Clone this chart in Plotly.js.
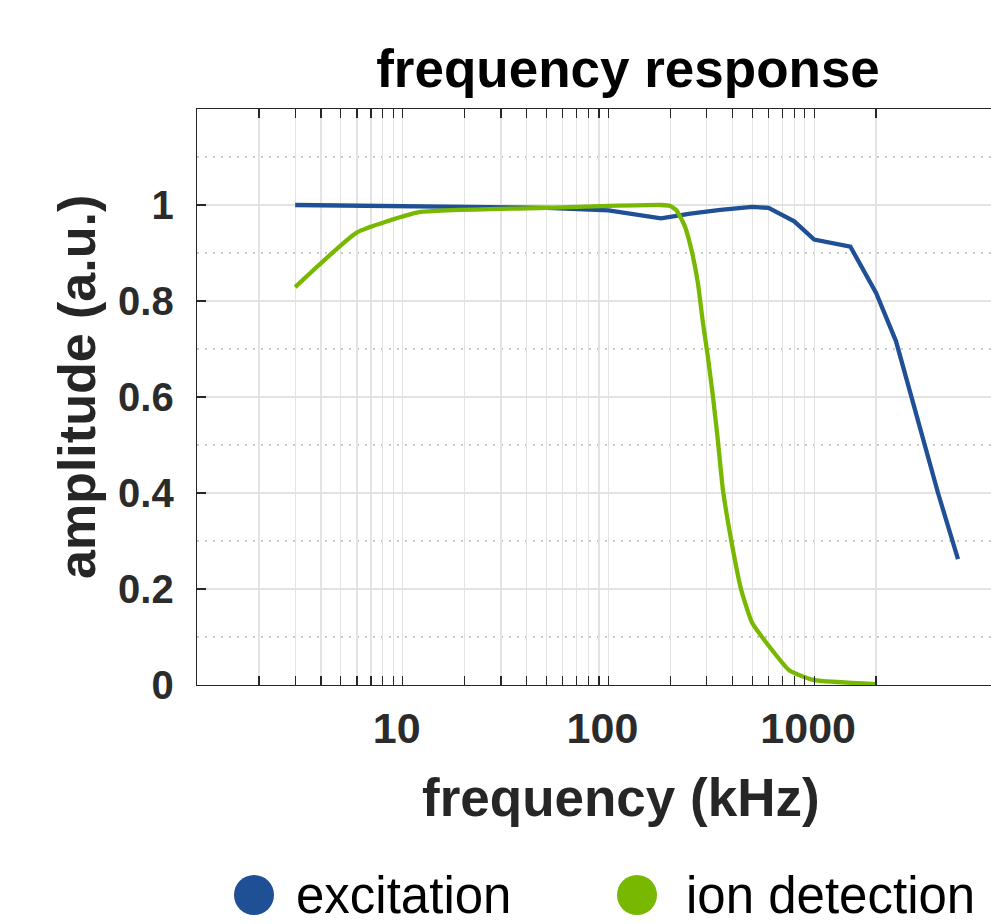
<!DOCTYPE html>
<html><head><meta charset="utf-8">
<script src="https://cdn.plot.ly/plotly-3.0.1.min.js"></script>
<style>html,body{margin:0;padding:0;overflow:hidden;background:#fff;width:991px;height:924px}#chart{width:1100px;height:924px}</style>
</head><body><div id="chart"></div>
<script>
const seriesNames = ['excitation', 'ion detection'];
const seriesColors = ['#1f4f94', '#78b800'];
const excitationFreq = [3, 6, 12, 25, 50, 100, 180, 250, 350, 500, 600, 800, 1000, 1500, 2000, 2500, 4000, 5000];
const excitationAmp  = [1.0, 0.999, 0.998, 0.996, 0.994, 0.989, 0.972, 0.982, 0.990, 0.996, 0.994, 0.966, 0.928, 0.913, 0.817, 0.716, 0.400, 0.262];
const ionFreq = [3, 6, 12, 50, 100, 180, 200, 214, 235, 253, 272, 288, 304, 322, 340, 360, 395, 442, 500, 759, 1000, 2000];
const ionAmp  = [0.829, 0.943, 0.985, 0.994, 0.998, 1.0, 0.998, 0.989, 0.956, 0.907, 0.838, 0.754, 0.685, 0.601, 0.511, 0.407, 0.302, 0.198, 0.129, 0.030, 0.010, 0.002];
const xTickVals = [2, 3, 4, 5, 6, 7, 8, 9, 10, 20, 30, 40, 50, 60, 70, 80, 90, 100, 200, 300, 400, 500, 600, 700, 800, 900, 1000, 2000];
const xTickText = ['', '', '', '', '', '', '', '', '10', '', '', '', '', '', '', '', '', '100', '', '', '', '', '', '', '', '', '1000', ''];
const yTickVals = [0, 0.2, 0.4, 0.6, 0.8, 1];
const yTickText = ['0', '0.2', '0.4', '0.6', '0.8', '1'];
const chartTitle = 'frequency response';
const xTitle = 'frequency (kHz)';
const yTitle = 'amplitude (a.u.)';

const W = 1100, H = 924;
const M = {l: 197, r: 41, t: 109, b: 239};
const plotW = W - M.l - M.r, plotH = H - M.t - M.b;
const px2x = p => (p - M.l) / plotW;
const px2y = p => (H - M.b - p) / plotH;

const font = 'Liberation Sans, Arial, Helvetica, sans-serif';
const traces = [
  {x: excitationFreq, y: excitationAmp, name: seriesNames[0], mode: 'lines', line: {color: seriesColors[0], width: 4.3}},
  {x: ionFreq, y: ionAmp, name: seriesNames[1], mode: 'lines', line: {color: seriesColors[1], width: 4.3, shape: 'spline', smoothing: 0.4}}
];

const legendY = px2y(895);
const legendCircleX = [px2x(254), px2x(637)];
const legendTextX = [px2x(294), px2x(684)];
const shapes = [], annotations = [];
for (let i = 0; i < seriesNames.length; i++) {
  shapes.push({type: 'circle', xref: 'paper', yref: 'paper', xsizemode: 'pixel', ysizemode: 'pixel',
    xanchor: legendCircleX[i], yanchor: legendY, x0: -20, x1: 20, y0: -20, y1: 20,
    fillcolor: seriesColors[i], line: {width: 0}});
  annotations.push({xref: 'paper', yref: 'paper', x: legendTextX[i], y: legendY, xanchor: 'left', yanchor: 'middle',
    text: seriesNames[i], showarrow: false, font: {family: font, size: 51, color: '#000'}});
}
annotations.push({xref: 'paper', yref: 'paper', x: px2x(621), y: px2y(797), xanchor: 'center', yanchor: 'middle',
  text: '<b>' + xTitle + '</b>', showarrow: false, font: {family: font, size: 53, color: '#262626'}});
annotations.push({xref: 'paper', yref: 'paper', x: px2x(77), y: px2y(387), xanchor: 'center', yanchor: 'middle', textangle: -90,
  text: '<b>' + yTitle + '</b>', showarrow: false, font: {family: font, size: 52, color: '#262626'}});

const layout = {
  width: W, height: H, margin: M, paper_bgcolor: '#fff', plot_bgcolor: '#fff', showlegend: false,
  font: {family: font, color: '#262626'},
  title: {text: '<b>' + chartTitle + '</b>', x: 0.5, xref: 'paper', xanchor: 'center', y: 1 - 68 / H, yref: 'container', yanchor: 'middle',
    font: {family: font, size: 53, color: '#000'}},
  xaxis: {type: 'log', range: [0, 4.19], tickmode: 'array', tickvals: xTickVals, ticktext: xTickText,
    ticks: 'inside', ticklen: 9, tickwidth: 1.3, tickcolor: '#262626', showline: true, linecolor: '#262626', linewidth: 1.3, mirror: 'ticks',
    showgrid: true, gridcolor: '#e3e3e3', gridwidth: 1.3, zeroline: false, automargin: false,
    tickfont: {family: font, size: 43, color: '#2b2b2b', weight: 'bold'}, ticklabelstandoff: 5, ticklabelshift: -6},
  yaxis: {range: [0, 1.2], tickmode: 'array', tickvals: yTickVals, ticktext: yTickText,
    ticks: 'inside', ticklen: 9, tickwidth: 1.3, tickcolor: '#262626', showline: true, linecolor: '#262626', linewidth: 1.3, mirror: 'ticks',
    showgrid: true, gridcolor: '#e3e3e3', gridwidth: 1.3, zeroline: false, automargin: false,
    minor: {tickmode: 'linear', tick0: 0.1, dtick: 0.2, showgrid: true, gridcolor: '#c8c8c8', gridwidth: 1.3, griddash: '2px,6px', ticks: ''},
    tickfont: {family: font, size: 40, color: '#2b2b2b', weight: 'bold'}, ticklabelstandoff: 14},
  shapes: shapes, annotations: annotations
};
Plotly.newPlot('chart', traces, layout, {displayModeBar: false, staticPlot: true});
</script></body></html>
